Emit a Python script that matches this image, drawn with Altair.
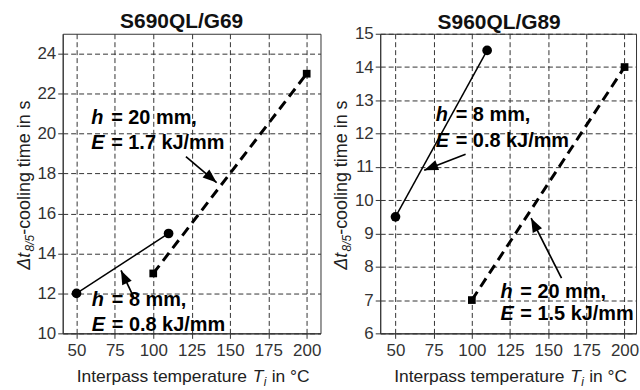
import math
import altair as alt
import pandas as pd

FONT = "Liberation Sans"

# ---------------- data ----------------
panel_titles = ["S690QL/G69", "S960QL/G89"]
x_ticks = [50, 75, 100, 125, 150, 175, 200]
s690_y_ticks = [10, 12, 14, 16, 18, 20, 22, 24]
s960_y_ticks = [6, 7, 8, 9, 10, 11, 12, 13, 14, 15]

temp_h8 = [50, 110]
temp_h20 = [100, 200]
s690_h8 = [12, 15]
s690_h20 = [13, 23]
s960_h8 = [9.5, 14.5]
s960_h20 = [7, 14]

# annotations (data coordinates)
s690_note_sym = ["h", "E", "h", "E"]
s690_note_rest = ["= 20 mm,", "= 1.7 kJ/mm", "= 8 mm,", "= 0.8 kJ/mm"]
s690_note_x = [59.6, 59.6, 60.0, 60.0]
s690_note_y = [20.8, 19.55, 11.65, 10.4]

s960_note_sym = ["h", "E", "h", "E"]
s960_note_rest = ["= 8 mm,", "= 0.8 kJ/mm", "= 20 mm,", "= 1.5 kJ/mm"]
s960_note_x = [76.4, 76.4, 118.7, 118.7]
s960_note_y = [12.55, 11.78, 7.24, 6.57]

s690_arrow_x = [121.3, 87.6]
s690_arrow_y = [18.85, 11.75]
s690_arrow_x2 = [141.3, 79.0]
s690_arrow_y2 = [17.55, 13.15]

s960_arrow_x = [95.9, 158.7]
s960_arrow_y = [11.38, 7.66]
s960_arrow_x2 = [68.8, 138.8]
s960_arrow_y2 = [10.9, 9.46]

# ---------------- layout / style ----------------
ARROW_PATH = "M0,0L-0.75,2L0.75,2Z"


def panel(title, xdom, ydom, yticks, h8, h20, notes, arrows, w, h, title_dx, title_dy):
    xs = alt.Scale(domain=xdom, nice=False, zero=False)
    ys = alt.Scale(domain=ydom, nice=False, zero=False)
    xax = alt.Axis(values=x_ticks, title=None, labelFlush=False, labelPadding=4)
    yax = alt.Axis(values=yticks, title=None)

    def X(f):
        return alt.X(f, type="quantitative", scale=xs, axis=xax)

    def Y(f):
        return alt.Y(f, type="quantitative", scale=ys, axis=yax)

    df8 = pd.DataFrame({"T": temp_h8, "t": h8})
    df20 = pd.DataFrame({"T": temp_h20, "t": h20})

    line8 = alt.Chart(df8).mark_line(color="black", strokeWidth=1.5).encode(x=X("T"), y=Y("t"))
    pts8 = alt.Chart(df8).mark_point(shape="circle", filled=True, size=95, color="black", opacity=1).encode(x=X("T"), y=Y("t"))
    line20 = alt.Chart(df20).mark_line(color="black", strokeWidth=3, strokeDash=[10, 6]).encode(x=X("T"), y=Y("t"))
    pts20 = alt.Chart(df20).mark_point(shape="square", filled=True, size=60, color="black", opacity=1).encode(x=X("T"), y=Y("t"))

    sym, rest, nx, ny = notes
    dfn = pd.DataFrame({"sym": sym, "rest": rest, "x": nx, "y": ny})
    t_sym = alt.Chart(dfn).mark_text(font=FONT, fontSize=20, fontWeight="bold", fontStyle="italic",
                                     align="left", baseline="middle", color="black").encode(
        x=X("x"), y=Y("y"), text="sym:N")
    t_rest = alt.Chart(dfn).mark_text(font=FONT, fontSize=20, fontWeight="bold", dx=20,
                                      align="left", baseline="middle", color="black").encode(
        x=X("x"), y=Y("y"), text="rest:N")

    ax, ay, ax2, ay2 = arrows
    kx = w / (xdom[1] - xdom[0])
    ky = h / (ydom[1] - ydom[0])
    angles = []
    for a, b, c, d in zip(ax, ay, ax2, ay2):
        dxp = (c - a) * kx
        dyp = -(d - b) * ky
        angles.append(math.degrees(math.atan2(dxp, -dyp)) % 360)
    dfa = pd.DataFrame({"x": ax, "y": ay, "x2": ax2, "y2": ay2, "ang": angles})
    shaft = alt.Chart(dfa).mark_rule(color="black", strokeWidth=1.7).encode(
        x=X("x"), y=Y("y"), x2="x2:Q", y2="y2:Q")
    head = alt.Chart(dfa).mark_point(shape=ARROW_PATH, filled=True, size=196, color="black", opacity=1).encode(
        x=X("x2"), y=Y("y2"), angle=alt.Angle("ang:Q", scale=None))

    # y-axis title pieces (rotated)
    def txt(s, **kw):
        return alt.Chart(pd.DataFrame({"s": [s]})).mark_text(font=FONT, color="#222", **kw).encode(text="s:N")

    yt1 = txt("Δt", fontSize=18, fontStyle="italic", angle=270, align="right", baseline="alphabetic").encode(
        x=alt.value(-33), y=alt.value(220))
    yt2 = txt("8/5", fontSize=12, fontStyle="italic", angle=270, align="right", baseline="alphabetic").encode(
        x=alt.value(-29), y=alt.value(202))
    yt3 = txt("-cooling time in s", fontSize=18, angle=270, align="left", baseline="alphabetic").encode(
        x=alt.value(-33), y=alt.value(202))

    # x-axis title pieces
    xt1 = txt("Interpass temperature", fontSize=17.5, align="left", baseline="alphabetic").encode(
        x=alt.value(14), y=alt.value(350))
    xt2 = txt("T", fontSize=17.5, fontStyle="italic", align="left", baseline="alphabetic").encode(
        x=alt.value(191), y=alt.value(350))
    xt3 = txt("i", fontSize=12, fontStyle="italic", align="left", baseline="alphabetic").encode(
        x=alt.value(202), y=alt.value(354))
    xt4 = txt("in °C", fontSize=17.5, align="left", baseline="alphabetic").encode(
        x=alt.value(210), y=alt.value(350))

    return alt.layer(line20, line8, pts20, pts8, shaft, head, t_sym, t_rest,
                     yt1, yt2, yt3, xt1, xt2, xt3, xt4).properties(
        width=w, height=h,
        title=alt.TitleParams(text=title, font=FONT, fontSize=21, fontWeight="bold", color="#111",
                              anchor="middle", frame="group", offset=4, dx=title_dx, dy=title_dy))


p1 = panel(panel_titles[0], [41, 209], [10, 25], s690_y_ticks, s690_h8, s690_h20,
           (s690_note_sym, s690_note_rest, s690_note_x, s690_note_y),
           (s690_arrow_x, s690_arrow_y, s690_arrow_x2, s690_arrow_y2), 259, 301, -10, 2)
p2 = panel(panel_titles[1], [40, 207.5], [6, 15], s960_y_ticks, s960_h8, s960_h20,
           (s960_note_sym, s960_note_rest, s960_note_x, s960_note_y),
           (s960_arrow_x, s960_arrow_y, s960_arrow_x2, s960_arrow_y2), 257, 301, -9, 12)

chart = alt.hconcat(p1, p2, spacing=11).properties(
    padding={"left": 15, "top": 9, "right": 0, "bottom": 0}
).configure_view(stroke="#333", strokeWidth=1).configure_axis(
    labelFont=FONT, labelFontSize=17, labelColor="#333", labelPadding=2,
    tickColor="#333", tickSize=5, domainColor="#333",
    grid=True, gridColor="#333", gridDash=[5, 3], gridOpacity=1, gridWidth=1,
)

chart.save("out.html", embed_options={"renderer": "svg", "actions": False})
